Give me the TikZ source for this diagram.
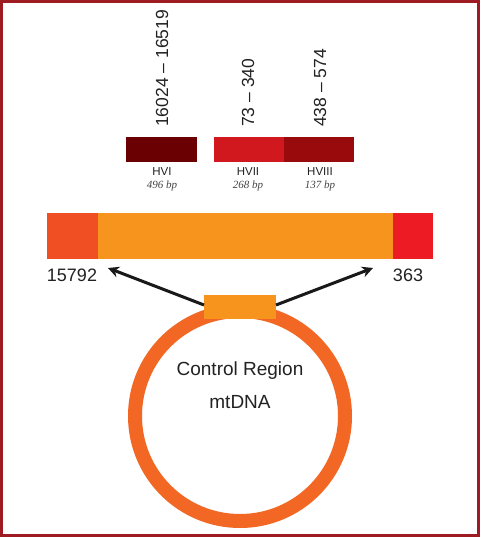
\documentclass[tikz,border=0pt]{standalone}
\usepackage{fontspec}
\setmainfont{Liberation Sans}
\newfontfamily\bpfont{Liberation Serif}
\usetikzlibrary{arrows.meta}
\definecolor{framecol}{HTML}{9E1B22}
\definecolor{hvone}{HTML}{6B0003}
\definecolor{hvtwo}{HTML}{D0181E}
\definecolor{hvthree}{HTML}{980A0C}
\definecolor{segleft}{HTML}{F04E23}
\definecolor{segmid}{HTML}{F7941D}
\definecolor{segright}{HTML}{ED1C24}
\definecolor{ringcol}{HTML}{F26724}
\definecolor{txtcol}{HTML}{222222}
\tikzset{
  seg/.style={draw=none, inner sep=0pt, outer sep=0pt, minimum height=#1, anchor=north west},
  rangelabel/.style={rotate=90, anchor=west, inner sep=0pt, text=txtcol, font=\fontsize{17.5}{20}\selectfont},
  hvlabel/.style={inner sep=0pt, text=txtcol, font=\fontsize{11.5}{12}\selectfont},
  bplabel/.style={inner sep=0pt, text=txtcol!85, font=\bpfont\itshape\fontsize{11}{12}\selectfont},
  poslabel/.style={inner sep=0pt, text=txtcol, font=\fontsize{18}{20}\selectfont},
  biglabel/.style={inner sep=0pt, text=txtcol, font=\fontsize{19}{22}\selectfont},
  arr/.style={line width=3pt, black!90, -{Stealth[length=11pt,width=11pt]}}
}
\begin{document}
\begin{tikzpicture}[x=1pt,y=-1pt]
\useasboundingbox (0,0) rectangle (480,537);
\fill[white] (0,0) rectangle (480,537);
\draw[framecol, line width=3pt] (1.5,1.5) rectangle (478.5,535.5);

% HV boxes
\node[seg=25pt, fill=hvone, minimum width=71pt] (hv1) at (126,137) {};
\node[seg=25pt, fill=hvtwo, minimum width=70pt] (hv2) at (214,137) {};
\node[seg=25pt, fill=hvthree, minimum width=70pt] (hv3) at (284,137) {};

% range labels
\node[rangelabel] (r1) at (162,127) {16024 – 16519};
\node[rangelabel] (r2) at (248,127) {73 – 340};
\node[rangelabel] (r3) at (320,127) {438 – 574};

% HV names and lengths
\node[hvlabel] (n1) at (162,172) {HVI};
\node[hvlabel] (n2) at (248,172) {HVII};
\node[hvlabel] (n3) at (320,172) {HVIII};
\node[bplabel] (b1) at (162,186) {496 bp};
\node[bplabel] (b2) at (248,186) {268 bp};
\node[bplabel] (b3) at (320,186) {137 bp};

% big bar
\node[seg=46pt, fill=segleft, minimum width=51pt] (bl) at (47,213) {};
\node[seg=46pt, fill=segmid, minimum width=295pt] (bm) at (98,213) {};
\node[seg=46pt, fill=segright, minimum width=40pt] (br) at (393,213) {};

\node[poslabel] (p1) at (72,275) {15792};
\node[poslabel] (p2) at (408,275) {363};

% ring
\node[circle, draw=ringcol, line width=14pt, minimum size=210pt, inner sep=0pt] (ring) at (240,416) {};
\node[biglabel] (t1) at (240,371) {Control Region};
\node[biglabel] (t2) at (240,402) {mtDNA};

% control region box
\node[seg=24pt, fill=segmid, minimum width=72pt] (ctrl) at (204,295) {};

\coordinate (la) at (108,268);
\coordinate (ra) at (373,268);
\draw[arr] ([yshift=2pt]ctrl.west) -- (la);
\draw[arr] ([yshift=2pt]ctrl.east) -- (ra);
\end{tikzpicture}
\end{document}
